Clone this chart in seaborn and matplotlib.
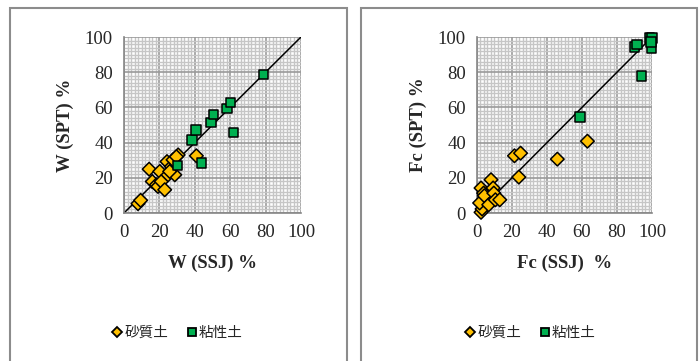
import numpy as np
import pandas as pd
import seaborn as sns
import matplotlib.pyplot as plt
from matplotlib.patches import Rectangle
from matplotlib.lines import Line2D

# W (water content) panel
w_sand_ssj = [7.9, 9.4, 14.2, 16.0, 18.3, 20.2, 19.2, 21.1, 23.0, 24.9, 24.3, 26.8, 28.7, 27.7, 30.6, 29.6, 40.9, 25.8]
w_sand_spt = [5.3, 7.2, 24.9, 17.9, 16.0, 23.6, 15.1, 17.9, 13.2, 21.7, 29.2, 26.4, 21.7, 30.2, 33.0, 32.0, 32.5, 23.6]
w_clay_ssj = [30.2, 38.5, 40.8, 43.8, 49.0, 50.6, 58.3, 60.2, 61.9, 78.9]
w_clay_spt = [27.0, 41.5, 47.2, 28.3, 51.5, 56.0, 59.4, 62.8, 45.7, 78.7]

# Fc (fines content) panel
fc_sand_ssj = [2.3, 2.9, 1.5, 2.3, 3.8, 4.2, 6.7, 8.0, 9.2, 9.6, 10.5, 13.0, 21.4, 24.9, 23.9, 45.9, 63.1]
fc_sand_spt = [0.4, 2.3, 5.7, 14.2, 11.3, 9.8, 4.7, 18.9, 14.2, 11.3, 7.5, 7.5, 32.5, 34.0, 20.4, 30.6, 40.8]
fc_clay_ssj = [58.9, 89.9, 91.4, 94.1, 98.5, 100.0, 99.8, 99.4]
fc_clay_spt = [54.7, 94.3, 95.8, 77.7, 99.6, 99.6, 93.4, 97.2]

soil_labels = ['砂質土', '粘性土']
colors = {'砂質土': '#FFC000', '粘性土': '#00B050'}
markers = {'砂質土': 'D', '粘性土': 's'}


def make_df(sx, sy, cx, cy):
    return pd.DataFrame({
        'ssj': list(sx) + list(cx),
        'spt': list(sy) + list(cy),
        'soil': [soil_labels[0]] * len(sx) + [soil_labels[1]] * len(cx),
    })


df_w = make_df(w_sand_ssj, w_sand_spt, w_clay_ssj, w_clay_spt)
df_fc = make_df(fc_sand_ssj, fc_sand_spt, fc_clay_ssj, fc_clay_spt)

sns.set_style('white')
plt.rcParams['font.family'] = ['Liberation Serif', 'Noto Sans CJK JP']

fig = plt.figure(figsize=(7, 3.61), dpi=100)

# panel frames
for x0, x1 in [(10, 347), (361, 697)]:
    fig.add_artist(Rectangle((x0 / 700, -0.05), (x1 - x0) / 700, 1.05 - 8 / 361,
                             transform=fig.transFigure, fill=False,
                             edgecolor='#8c8c8c', lw=1.5))

ax1 = fig.add_axes([124 / 700, 1 - 213 / 361, 177 / 700, 176 / 361])
ax2 = fig.add_axes([477 / 700, 1 - 213 / 361, 175 / 700, 176 / 361])

panels = [(ax1, df_w, 'W (SSJ) %', 'W (SPT) %'),
          (ax2, df_fc, 'Fc (SSJ)  %', 'Fc (SPT) %')]

for ax, df, xl, yl in panels:
    ax.set_xlim(0, 100)
    ax.set_ylim(0, 100)
    ax.set_xticks(np.arange(0, 101, 20))
    ax.set_yticks(np.arange(0, 101, 20))
    ax.set_xticks(np.arange(0, 101, 2), minor=True)
    ax.set_yticks(np.arange(0, 101, 2), minor=True)
    ax.grid(which='minor', color='#c6c6c6', lw=1.0)
    ax.grid(which='major', color='#9a9a9a', lw=1.2)
    ax.set_axisbelow(True)
    for s in ['top', 'right']:
        ax.spines[s].set_visible(False)
    for s in ['left', 'bottom']:
        ax.spines[s].set_color('#868686')
        ax.spines[s].set_linewidth(1.2)
    ax.tick_params(which='major', direction='out', length=5, width=1.2,
                   color='#868686', labelsize=13.5, pad=3)
    ax.tick_params(which='minor', length=0)
    ax.plot([0, 100], [0, 100], color='black', lw=1.1, zorder=2)
    sns.scatterplot(data=df, x='ssj', y='spt', hue='soil', style='soil',
                    palette=colors, markers=markers, s=48, edgecolor='black',
                    linewidth=1.1, ax=ax, legend=False, zorder=3, clip_on=False)
    ax.set_xlabel(xl, fontsize=13.5, fontweight='bold', labelpad=10)
    ax.set_ylabel(yl, fontsize=13.5, fontweight='bold', labelpad=8)

handles = [Line2D([], [], marker=markers[k], ls='none', markerfacecolor=colors[k],
                  markeredgecolor='black', markersize=5.5 if k == '粘性土' else 5,
                  markeredgewidth=1.3, label=k) for k in soil_labels]

for cx in [178 / 700, 531 / 700]:
    fig.legend(handles=handles, loc='center', bbox_to_anchor=(cx, 1 - 333 / 361),
               ncol=2, frameon=False, handlelength=0.6, handletextpad=0.2,
               columnspacing=1.3, prop={'family': ['Noto Sans CJK JP'], 'size': 10.5})

fig.savefig('out.png', dpi=100)
